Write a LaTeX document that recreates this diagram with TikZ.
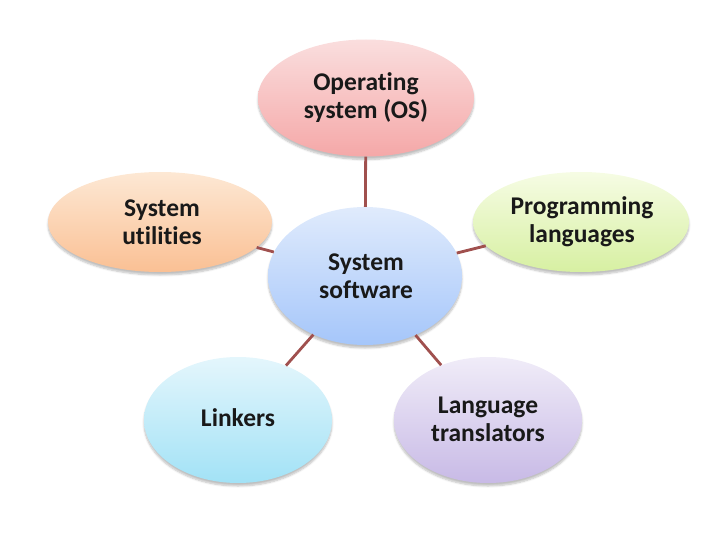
\documentclass[tikz,border=0pt]{standalone}
\usepackage{fontspec}
\setmainfont[Ligatures={NoCommon}]{Carlito}
\usetikzlibrary{shapes.geometric,shadows.blur}
\definecolor{linkc}{RGB}{160,80,78}
\begin{document}
\begin{tikzpicture}[x=1pt,y=-1pt,
  bub/.style={ellipse,inner sep=0pt,
    blur shadow={shadow xshift=0pt,shadow yshift=-3pt,shadow blur steps=6,shadow opacity=25}},
  lbl/.style={font=\bfseries\fontsize{25.5}{28}\selectfont,align=center,text=black!90},
  link/.style={draw=linkc,line width=2.8pt}]
\useasboundingbox (0,0) rectangle (720,540);
\node[bub,minimum width=216,minimum height=117,top color={rgb,255:red,250;green,222;blue,222},bottom color={rgb,255:red,245;green,168;blue,168}] (os) at (366,98) {};
\node[bub,minimum width=224,minimum height=100,top color={rgb,255:red,253;green,232;blue,212},bottom color={rgb,255:red,250;green,192;blue,148}] (util) at (160,222) {};
\node[bub,minimum width=194,minimum height=138,top color={rgb,255:red,224;green,235;blue,252},bottom color={rgb,255:red,165;green,198;blue,250}] (sw) at (365,276) {};
\node[bub,minimum width=216,minimum height=100,top color={rgb,255:red,246;green,252;blue,228},bottom color={rgb,255:red,215;green,240;blue,162}] (prog) at (581,222) {};
\node[bub,minimum width=188,minimum height=126,top color={rgb,255:red,228;green,246;blue,252},bottom color={rgb,255:red,162;green,226;blue,246}] (link) at (238,420) {};
\node[bub,minimum width=188,minimum height=126,top color={rgb,255:red,240;green,236;blue,248},bottom color={rgb,255:red,200;green,186;blue,230}] (tr) at (488,420) {};
\draw[link] (os) -- (sw);
\draw[link] (util) -- (sw);
\draw[link] (prog) -- (sw);
\draw[link] (link) -- (sw);
\draw[link] (tr) -- (sw);
\node[lbl] (ost) at (366,98) {Operating\\system (OS)};
\node[lbl] (utilt) at (162,222) {System\\utilities};
\node[lbl] (swt) at (366,276) {System\\software};
\node[lbl] (progt) at (582,222) {Programming\\languages};
\node[lbl] (linkt) at (238,418) {Linkers};
\node[lbl] (trt) at (488,419) {Language\\translators};
\end{tikzpicture}
\end{document}
